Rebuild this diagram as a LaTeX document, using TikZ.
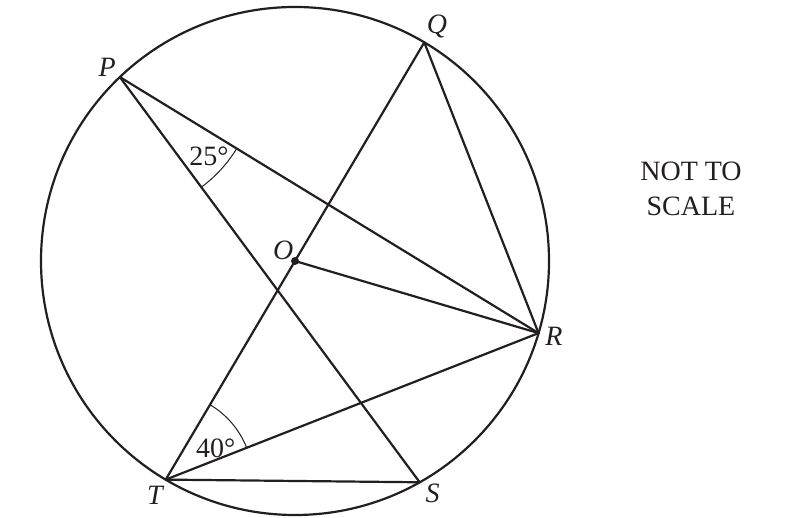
\documentclass[tikz,border=0pt]{standalone}
\usepackage{fontspec}
\setmainfont{Liberation Serif}
\usetikzlibrary{angles,calc}
\definecolor{ink}{HTML}{231F20}
\begin{document}
\begin{tikzpicture}[x=1pt,y=1pt,
  geo/.style={line width=2.2pt, draw=ink, line cap=round, line join=round},
  anglearc/.style={draw=ink, line width=1pt},
  ptlabel/.style={font=\fontsize{28}{33}\selectfont\itshape, text=ink, inner sep=0pt},
  txt/.style={font=\fontsize{28}{33}\selectfont, text=ink, inner sep=0pt}]
\useasboundingbox (0,0) rectangle (811,517);
% centre and points on the circle
\coordinate (O) at (295,256);
\coordinate (P) at ($(O)+(133.6:254pt)$);
\coordinate (Q) at ($(O)+(59.4:254pt)$);
\coordinate (R) at ($(O)+(-16.5:254pt)$);
\coordinate (T) at ($(O)+(239.4:254pt)$);
\coordinate (S) at ($(O)+(-60.6:254pt)$);
% circle
\draw[geo] (O) circle[radius=254pt];
% chords
\draw[geo] (P) -- (R);
\draw[geo] (P) -- (S);
\draw[geo] (Q) -- (T);
\draw[geo] (Q) -- (R);
\draw[geo] (O) -- (R);
\draw[geo] (T) -- (R);
\draw[geo] (T) -- (S);
\fill[ink] (O) circle[radius=4pt];
% angle marks
\pic[anglearc, angle radius=137pt] {angle=S--P--R};
\pic[anglearc, angle radius=87pt] {angle=R--T--Q};
% labels
\node[ptlabel] (lP) at (107.3,449.8) {P};
\node[ptlabel] (lQ) at (437,490) {Q};
\node[ptlabel] (lO) at (283.3,266.5) {O};
\node[ptlabel] (lR) at (553.8,180.7) {R};
\node[ptlabel] (lT) at (155,22) {T};
\node[ptlabel] (lS) at (432.5,23.7) {S};
\node[txt] (a25) at (209,361) {25°};
\node[txt] (a40) at (215.8,68.7) {40°};
\node[txt, anchor=base] (n1) at (691,336.3) {NOT TO};
\node[txt, anchor=base] (n2) at (691,301.3) {SCALE};
\end{tikzpicture}
\end{document}
